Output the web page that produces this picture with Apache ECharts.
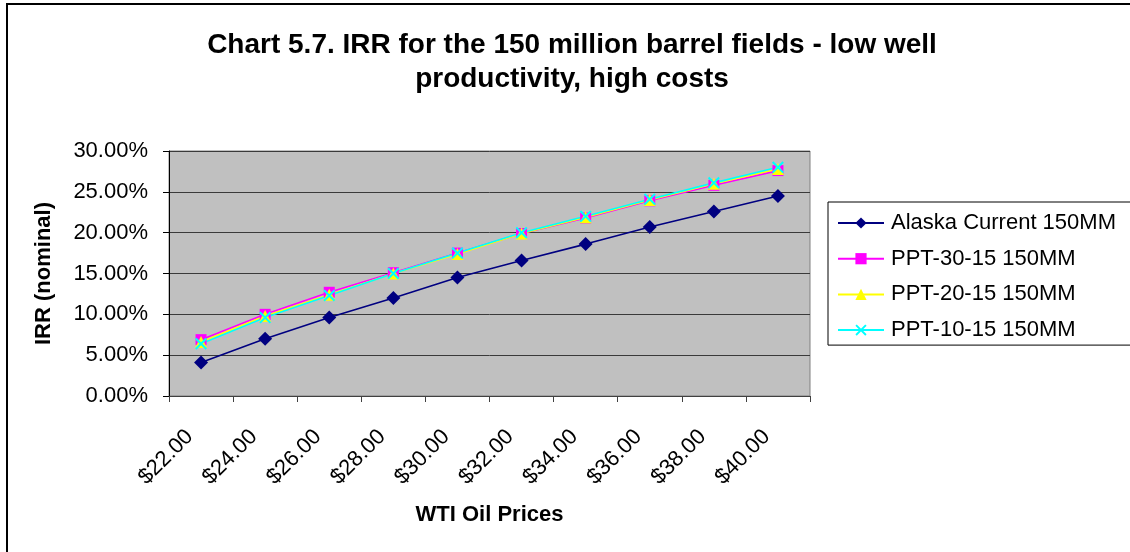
<!DOCTYPE html>
<html>
  <head>
    <meta charset="utf-8" />
    <title>Chart 5.7. IRR for the 150 million barrel fields</title>
    <script src="https://cdn.jsdelivr.net/npm/echarts@6.0.0/dist/echarts.min.js"></script>
    <style>
      body {
        margin: 0;
        background: #fff;
      }
      #chart {
        width: 1130px;
        height: 552px;
      }
    </style>
  </head>
  <body>
    <div id="chart"></div>

    <script>
      // WTI price categories and IRR values (percent)
      const prices = ['$22.00', '$24.00', '$26.00', '$28.00', '$30.00', '$32.00', '$34.00', '$36.00', '$38.00', '$40.00'];
      const alaskaCurrent = [4.1, 7.0, 9.6, 12.0, 14.5, 16.6, 18.6, 20.7, 22.6, 24.5];
      const ppt3015 = [6.9, 10.0, 12.7, 15.1, 17.5, 19.9, 21.8, 23.9, 25.8, 27.6];
      const ppt2015 = [6.6, 9.8, 12.4, 15.0, 17.4, 19.9, 21.9, 24.0, 26.0, 27.8];
      const ppt1015 = [6.4, 9.6, 12.3, 15.0, 17.5, 20.0, 22.0, 24.1, 26.1, 28.0];

      const font = 'Liberation Sans, Arial, sans-serif';
      const crossPath = 'path://M0,1.2 L1.2,0 L10,8.8 L8.8,10 Z M8.8,0 L10,1.2 L1.2,10 L0,8.8 Z';

      function lineSeries(name, data, color, symbol, size) {
        return {
          name: name,
          type: 'line',
          data: data,
          symbol: symbol,
          symbolSize: size,
          showAllSymbol: true,
          lineStyle: { color: color, width: 1.6 },
          itemStyle: { color: color },
          emphasis: { disabled: true }
        };
      }

      const chart = echarts.init(document.getElementById('chart'));
      chart.setOption({
        animation: false,
        textStyle: { fontFamily: font },
        title: {
          text: 'Chart 5.7. IRR for the 150 million barrel fields - low well\nproductivity, high costs',
          left: 572,
          top: 28,
          textAlign: 'center',
          padding: 0,
          textStyle: { fontFamily: font, fontSize: 28, fontWeight: 'bold', color: '#000', lineHeight: 34 }
        },
        graphic: [{
          type: 'rect',
          shape: { x: 7, y: 4, width: 1300, height: 800 },
          style: { fill: 'none', stroke: '#000', lineWidth: 2 },
          silent: true
        }],
        legend: {
          orient: 'vertical',
          left: 828,
          top: 202,
          padding: [10, 30, 4, 9],
          itemGap: 13.7,
          itemWidth: 46,
          itemHeight: 14,
          borderColor: '#000',
          borderWidth: 1,
          textStyle: { fontFamily: font, fontSize: 22, color: '#000', lineHeight: 22, padding: [0, 0, 0, 2] },
          data: ['Alaska Current 150MM', 'PPT-30-15 150MM', 'PPT-20-15 150MM', 'PPT-10-15 150MM']
        },
        grid: {
          left: 169,
          top: 151,
          right: 320,
          bottom: 156,
          show: true,
          backgroundColor: '#C0C0C0',
          borderColor: '#808080',
          borderWidth: 1
        },
        xAxis: {
          type: 'category',
          data: prices,
          boundaryGap: true,
          name: 'WTI Oil Prices',
          nameLocation: 'middle',
          nameGap: 108,
          nameTextStyle: { fontFamily: font, fontSize: 22, fontWeight: 'bold', color: '#000' },
          axisLine: { lineStyle: { color: '#404040', width: 1 } },
          axisTick: { show: true, length: 6, lineStyle: { color: '#404040' } },
          axisLabel: {
            interval: 0,
            rotate: 45,
            margin: 26,
            padding: [0, 16, 0, 0],
            fontFamily: font,
            fontSize: 22,
            color: '#000'
          },
          splitLine: { show: false }
        },
        yAxis: {
          type: 'value',
          min: 0,
          max: 30,
          interval: 5,
          name: 'IRR (nominal)',
          nameLocation: 'middle',
          nameGap: 114,
          nameTextStyle: { fontFamily: font, fontSize: 22, fontWeight: 'bold', color: '#000' },
          axisLine: { show: true, lineStyle: { color: '#000', width: 1 } },
          axisTick: { show: true, length: 6, lineStyle: { color: '#000' } },
          axisLabel: {
            margin: 21,
            fontFamily: font,
            fontSize: 22,
            color: '#000',
            formatter: function (v) { return v.toFixed(2) + '%'; }
          },
          splitLine: { show: true, lineStyle: { color: '#3a3a3a', width: 1 } }
        },
        series: [
          lineSeries('Alaska Current 150MM', alaskaCurrent, '#000080', 'diamond', 14),
          lineSeries('PPT-30-15 150MM', ppt3015, '#FF00FF', 'rect', 11),
          lineSeries('PPT-20-15 150MM', ppt2015, '#FFFF00', 'triangle', 12),
          lineSeries('PPT-10-15 150MM', ppt1015, '#00FFFF', crossPath, 12)
        ]
      });
    </script>
  </body>
</html>
